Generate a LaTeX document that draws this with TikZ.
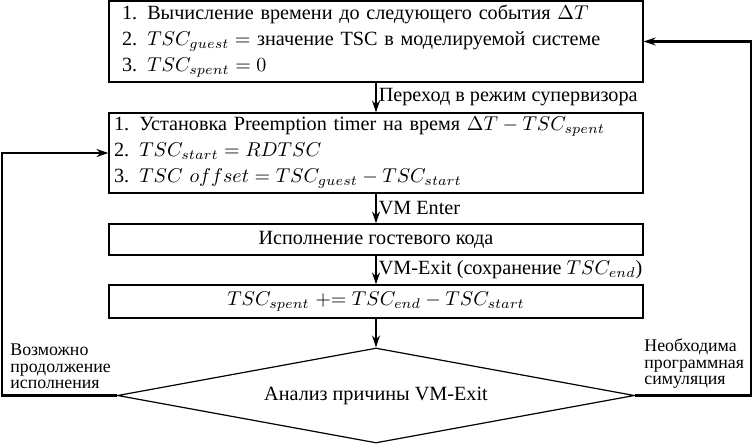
\documentclass[tikz,border=0pt]{standalone}
\usepackage{fontspec}
\setmainfont{Liberation Serif}
\usepackage{amsmath}
\usetikzlibrary{shapes.geometric, arrows.meta}

\begin{document}
\begin{tikzpicture}[x=0.5pt, y=-0.5pt,
        font=\fontsize{10.1}{13}\selectfont,
        bloc/.style={draw, line width=0.6pt, minimum width=267pt, inner ysep=2pt},
        fleche/.style={-{Stealth[length=6pt, width=4pt]}, line width=0.8pt},
        boucle/.style={fleche, line width=1.1pt},
        cote/.style={font=\fontsize{8.9}{8.2}\selectfont, align=left, inner sep=0pt}]
        \useasboundingbox (0,0) rectangle (753,444);

        % Les blocs
        \node[bloc, text width=254pt, inner xsep=6.5pt, align=left, minimum height=40.5pt] (calcul) at (376,41.5)
            {1.\enspace Вычисление времени до следующего события $\Delta T$\\
             2.\enspace $TSC_{guest} =$ значение TSC в моделируемой системе\\
             3.\enspace $TSC_{spent} = 0$};
        \node[bloc, text width=262pt, inner xsep=2.5pt, align=left, minimum height=40pt] (timer) at (376,153)
            {1.\enspace Установка Preemption timer на время $\Delta T - TSC_{spent}$\\
             2.\enspace $TSC_{start} = RDTSC$\\
             3.\enspace $TSC\ offset = TSC_{guest} - TSC_{start}$};
        \node[bloc, minimum height=15.5pt] (invite) at (376,239.5) {Исполнение гостевого кода};
        \node[bloc, minimum height=16.5pt] (bilan) at (376,301.5)
            {$TSC_{spent} \mathrel{+}= TSC_{end} - TSC_{start}$};

        % Le losange
        \node[draw, diamond, aspect=5.4, minimum width=258.5pt, minimum height=47.5pt, inner sep=0pt, line width=0.6pt]
            (analyse) at (376,395.5) {Анализ причины VM-Exit};

        % Fleches verticales
        \draw[fleche] (calcul) -- (timer) node[midway, right, inner sep=1pt] {Переход в режим супервизора};
        \draw[fleche] (timer) -- (invite) node[midway, right, inner sep=1pt] {VM Enter};
        \draw[fleche] (invite) -- (bilan) node[midway, right, inner sep=1pt] {VM-Exit (сохранение $TSC_{end}$)};
        \draw[fleche] (bilan) -- (analyse);

        % Les boucles
        \coordinate (gauche) at (2,0);
        \coordinate (droite) at (751,0);
        \draw[boucle] (analyse.west) -- (analyse.west -| gauche) |- (timer.west);
        \draw[boucle] (analyse.east) -- (analyse.east -| droite) |- (calcul.east);

        % Labels des boucles
        \node[cote, anchor=south west] (suite) at (10,389) {Возможно\\продолжение\\исполнения};
        \node[cote, anchor=south west] (simul) at (644,389) {Необходима\\программная\\симуляция};
    \end{tikzpicture}
\end{document}
